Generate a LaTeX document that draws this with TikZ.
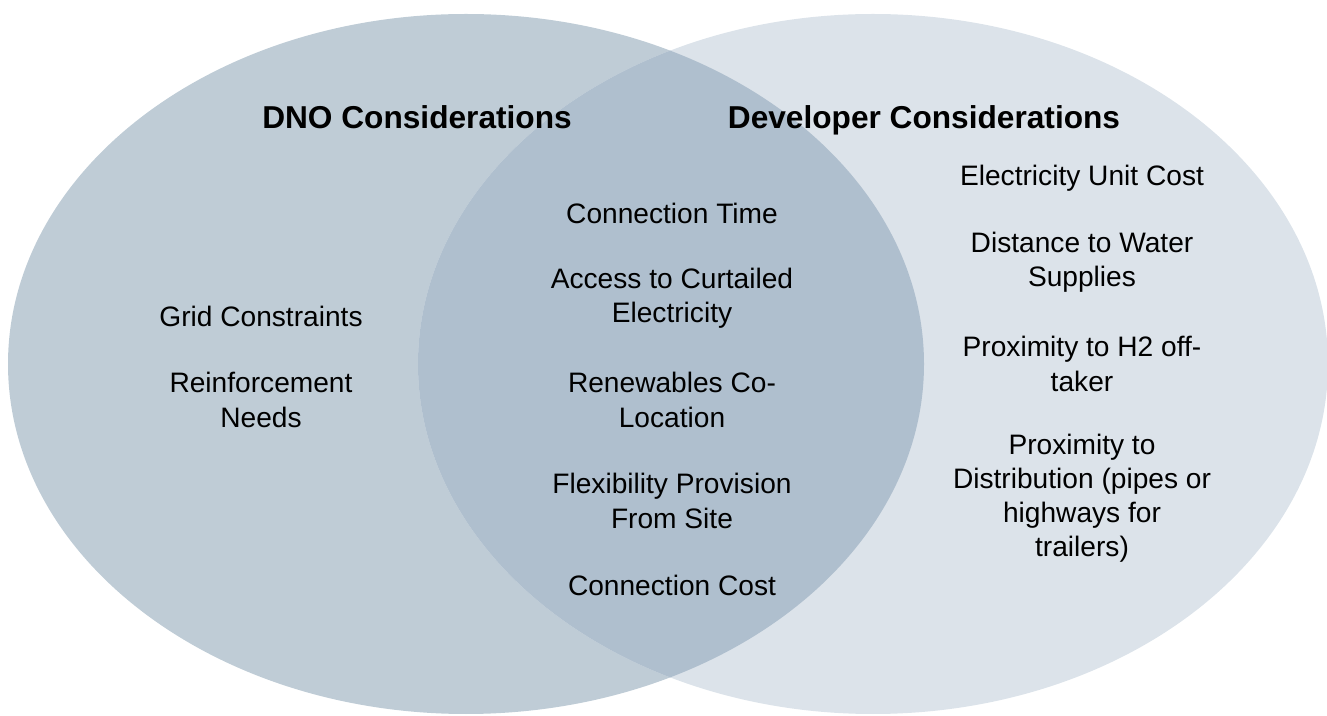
\documentclass[tikz,border=0pt]{standalone}
\usepackage{fontspec}
\setmainfont{Liberation Sans}
\definecolor{dnofill}{RGB}{191,204,214}
\definecolor{devfill}{RGB}{220,227,234}
\definecolor{bothfill}{RGB}{175,191,206}

\begin{document}
\begin{tikzpicture}[x=0.01cm, y=0.01cm,
    title/.style={font=\fontsize{9}{11}\selectfont\bfseries, inner sep=0pt, anchor=base},
    item/.style={align=center, font=\fontsize{8}{9.7}\selectfont, inner sep=0pt}]
      \useasboundingbox (0,0) rectangle (1327,715);

      % the two sets and their overlap
      \fill[dnofill] (466,351) ellipse [x radius=458, y radius=350];
      \fill[devfill] (873,351) ellipse [x radius=455, y radius=350];
      \begin{scope}
        \clip (466,351) ellipse [x radius=458, y radius=350];
        \fill[bothfill] (873,351) ellipse [x radius=455, y radius=350];
      \end{scope}

      \node[title] (dno) at (417,586) {DNO Considerations};
      \node[title] (dev) at (924,586) {Developer Considerations};

      \node[item] (grid) at (261,399) {Grid Constraints};
      \node[item] (reinf) at (261,315) {Reinforcement\\Needs};

      \node[item] (conntime) at (672,502) {Connection Time};
      \node[item] (access) at (672,417) {Access to Curtailed\\Electricity};
      \node[item] (renew) at (672,315) {Renewables Co-\\Location};
      \node[item] (flex) at (672,214) {Flexibility Provision\\From Site};
      \node[item] (conncost) at (672,130) {Connection Cost};

      \node[item] (unitcost) at (1082,537) {Electricity Unit Cost};
      \node[item] (water) at (1082,453) {Distance to Water\\Supplies};
      \node[item] (htwo) at (1082,351) {Proximity to H2 off-\\taker};
      \node[item] (distrib) at (1082,217) {Proximity to\\Distribution (pipes or\\highways for\\trailers)};
    \end{tikzpicture}
\end{document}
